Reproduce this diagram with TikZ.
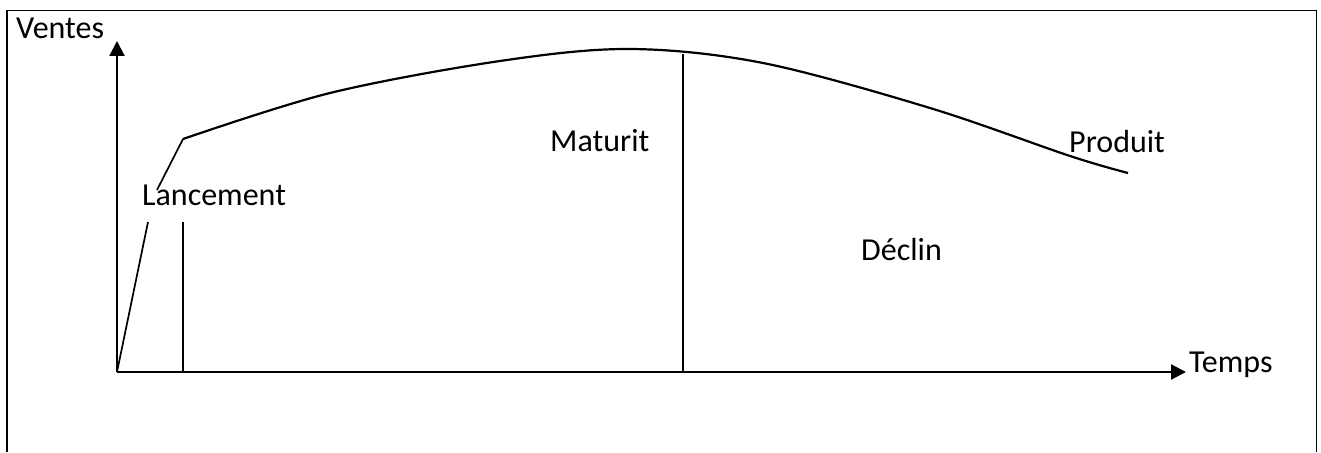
\documentclass[tikz,border=0pt]{standalone}
\usepackage{fontspec}
\setmainfont{Carlito}
\usetikzlibrary{arrows.meta}
\begin{document}
\begin{tikzpicture}[x=1pt,y=-1pt,
  lbl/.style={anchor=base west,inner sep=0pt,font=\fontsize{32}{38}\selectfont},
  axis/.style={line width=2.2pt,-{Triangle[width=15pt,length=15pt]}},
  thin/.style={line width=1.7pt},
  frame/.style={line width=1.5pt}]
\useasboundingbox (0,0) rectangle (1321,452);
\draw[frame] (7,452) -- (7,10.5) -- (1316.5,10.5) -- (1316.5,452);
\coordinate (O) at (117,372);
\coordinate (ytip) at (117,41);
\coordinate (xtip) at (1186,372);
\draw[axis] (O) -- (ytip);
\draw[axis] (O) -- (xtip);
% launch segments
\coordinate (l1) at (148,222);
\coordinate (l2) at (157,190);
\coordinate (l3) at (183,139);
\draw[thin] (O) -- (l1);
\draw[thin] (l2) -- (l3);
% vertical separators
\coordinate (v1b) at (183,372);
\coordinate (v1t) at (183,222);
\coordinate (v2b) at (683,372);
\coordinate (v2t) at (683,54);
\draw[thin] (v1b) -- (v1t);
\draw[thin] (v2b) -- (v2t);
% main curve
\draw[line width=2.2pt] plot[smooth,tension=0.55] coordinates {(183,139) (330,93) (500,61) (630,49) (763,63) (930,108) (1070,156) (1128,173)};
% labels
\node[lbl] (ventes) at (16,39) {Ventes};
\node[lbl] (lanc) at (142,205) {Lancement};
\node[lbl] (mat) at (550,151) {Maturit};
\node[lbl] (prod) at (1069,152) {Produit};
\node[lbl] (decl) at (861,260) {Déclin};
\node[lbl] (temps) at (1189,372) {Temps};
\end{tikzpicture}
\end{document}
